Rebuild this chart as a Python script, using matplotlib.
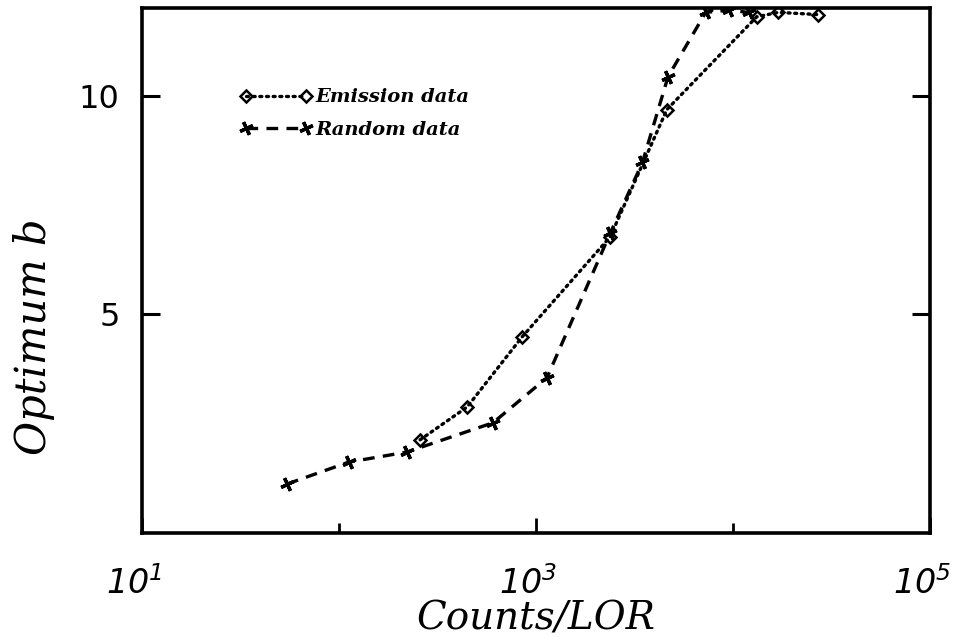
import matplotlib
matplotlib.use("Agg")
import matplotlib.pyplot as plt
import matplotlib.transforms as mtransforms
from matplotlib.ticker import FixedLocator, NullLocator, NullFormatter

plt.rcParams["mathtext.fontset"] = "custom"
plt.rcParams["mathtext.it"] = "DejaVu Sans:italic"
plt.rcParams["mathtext.rm"] = "DejaVu Sans:italic"
plt.rcParams["mathtext.default"] = "it"

# counts per LOR vs optimum b
emission_counts = [258, 447, 853, 2380, 4620, 13200, 17000, 27000]
emission_b = [2.13, 2.88, 4.49, 6.77, 9.68, 11.8, 11.9, 11.85]

random_counts = [54.5, 112, 221, 605, 1137, 2380, 3470, 4680, 7270, 9500, 12000]
random_b = [1.12, 1.62, 1.85, 2.52, 3.55, 6.85, 8.47, 10.43, 11.9, 11.95, 11.9]

x_ticks = [10, 1000, 100000]
x_tick_labels = [r"$10^{1}$", r"$10^{3}$", r"$10^{5}$"]
y_ticks = [5, 10]

fig = plt.figure(figsize=(9.68, 6.37), dpi=100)
ax = fig.add_axes([142 / 968, (637 - 533) / 637, 788 / 968, 525 / 637])

ax.plot(emission_counts, emission_b, color="black", linestyle=(0, (0.6, 1.4)),
        linewidth=2.4, dash_capstyle="round", marker="D", markersize=6,
        markerfacecolor="none", markeredgewidth=1.8, label="Emission data")
ax.plot(random_counts, random_b, color="black", linestyle=(0, (3.5, 2.5)),
        linewidth=2.4, marker=(4, 2, 25), markersize=10, markeredgewidth=2.4,
        label="Random data")

ax.set_xscale("log")
ax.set_xlim(10, 1e5)
ax.set_ylim(0, 12)

ax.xaxis.set_major_locator(FixedLocator(x_ticks))
ax.set_xticklabels(x_tick_labels)
ax.xaxis.set_minor_locator(FixedLocator([100, 10000]))
ax.xaxis.set_minor_formatter(NullFormatter())
ax.yaxis.set_major_locator(FixedLocator(y_ticks))
ax.yaxis.set_minor_locator(NullLocator())
ax.set_yticklabels([str(v) for v in y_ticks])

ax.tick_params(axis="x", which="major", direction="in", length=11, width=2,
               labelsize=24, pad=24, top=False)
ax.tick_params(axis="x", which="minor", direction="in", length=7, width=2,
               top=False)
ax.tick_params(axis="y", which="major", direction="in", length=13, width=2.2,
               labelsize=23, pad=16, left=True, right=True)

# shift x tick labels so the exponent sits over the tick
shift = mtransforms.ScaledTranslation(-8 / 100, 0, fig.dpi_scale_trans)
for lbl in ax.get_xticklabels():
    lbl.set_transform(lbl.get_transform() + shift)

for spine in ax.spines.values():
    spine.set_linewidth(2.6)

ax.set_xlabel("Counts/LOR", fontsize=28, fontfamily="DejaVu Serif",
              fontstyle="italic")
ax.set_ylabel("Optimum b", fontsize=30, fontfamily="DejaVu Serif",
              fontstyle="italic")
ax.xaxis.set_label_coords(0.5, -0.128)
ax.yaxis.set_label_coords(-0.11, 0.373)

ax.legend(loc="upper left", bbox_to_anchor=(0.102, 0.88), frameon=False,
          numpoints=2, handlelength=3.7, handletextpad=0.2, labelspacing=0.75,
          prop={"family": "DejaVu Serif", "style": "italic",
                "weight": "bold", "size": 14})

fig.savefig("out.png", dpi=100)
